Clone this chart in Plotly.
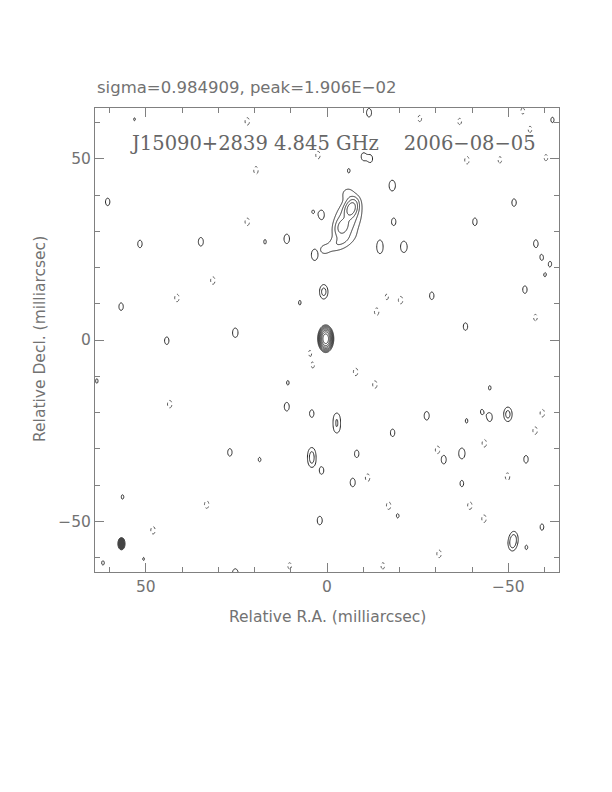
import numpy as np
import plotly.graph_objects as go

# ---------------- data (milliarcsec, flux in units of the lowest contour) -------------
# core component
core_ra = [0.35]
core_dec = [0.35]
core_amp = [250.0]
core_sra = [0.67]
core_sdec = [1.15]

# jet components
jet_ra = [-5.6, -6.7, -4.2, -3.0, -5.6, 0.8]
jet_dec = [33.0, 36.3, 31.2, 26.5, 40.5, 25.0]
jet_amp = [3.0, 12.0, 4.0, 1.2, 1.0, 0.9]
jet_smaj = [4.4, 1.45, 1.4, 3.5, 1.4, 1.0]
jet_smin = [2.35, 0.9, 1.0, 1.3, 1.4, 1.0]
jet_pa = [-20.0, -20.0, -20.0, -65.0, 0.0, 0.0]

# positive noise islands
pos_ra = [60.5, 51.6, 34.8, 17.1, 11.1, 56.8, 25.3, 44.2, -38.2, -18.0, -18.4, -21.2,
          -40.8, -51.6, -57.6, -59.2, -61.6, -60.1, -54.6, -28.9, 0.9, 7.5, 26.8, 18.6,
          10.8, 11.1, 4.2, -2.7, -2.7, 4.2, 4.2, 1.5, -8.2, -7.1, 2.0, -11.6, 25.3, 56.4,
          61.8, -27.5, -38.5, -42.7, -44.9, -49.9, -44.9, -37.2, -32.2, -54.9, -37.2,
          -59.3, -51.1, -51.6, -55.0, -19.5, 1.5, 3.4, -6.0, -18.1,
          -10.0, -12.0, 53.1, -62.2, 50.6, 63.5, 3.9, -14.6, -14.6]
pos_dec = [38.1, 26.5, 27.1, 27.1, 27.9, 9.2, 2.0, -0.2, 3.7, 42.6, 32.6, 25.7,
           32.6, 37.9, 26.6, 22.8, 21.0, 17.9, 13.9, 12.2, 13.3, 10.3, -31.0, -33.0,
           -11.8, -18.4, -20.3, -21.6, -24.2, -31.3, -33.5, -36.0, -31.4, -39.3, -49.8, 62.7, -64.5, -43.3,
           -61.5, -20.9, -22.3, -19.8, -21.3, -20.5, -13.2, -31.3, -33.0, -32.9, -39.6,
           -51.6, -56.3, -54.6, -57.2, -48.5, 34.5, 23.5, 46.7, -25.6,
           50.6, 50.0, 60.9, 60.7, -60.4, -11.3, 35.4, 24.8, 26.6]
pos_amp = [1.3, 1.3, 1.4, 1.1, 1.5, 1.3, 1.5, 1.3, 1.3, 1.7, 1.3, 1.8,
           1.3, 1.3, 1.3, 1.15, 1.1, 1.05, 1.3, 1.3, 2.6, 1.1, 1.3, 1.1,
           1.1, 1.4, 1.3, 1.6, 1.6, 1.8, 1.8, 1.3, 1.3, 1.4, 1.4, 1.4, 1.6, 1.1,
           1.1, 1.4, 1.1, 1.1, 1.4, 2.6, 1.1, 1.7, 1.4, 1.3, 1.2,
           1.2, 2.2, 2.0, 1.1, 1.1, 1.5, 1.8, 1.1, 1.3,
           1.25, 1.25, 1.05, 1.15, 1.05, 1.1, 1.05, 1.05, 1.05]

# negative noise islands (magnitudes)
neg_ra = [22.0, 2.5, 19.6, -38.6, 31.5, 41.4, 22.0, -13.7, -20.3, -7.9, -13.2, 4.7, 3.9,
          43.4, 33.2, 48.0, -11.2, -17.0, -30.5, -43.4, -49.8, -39.4, -43.3, -30.9, -59.4, -57.4,
          -25.6, -36.6, -54.0, -47.7, -60.4, -56.0, 10.3, -15.4, -57.5, -16.5]
neg_dec = [60.3, 51.0, 46.8, 49.6, 16.4, 11.6, 32.6, 7.8, 11.0, -8.8, -12.3, -3.5, -7.1,
           -17.7, -45.4, -52.5, -38.0, -45.7, -30.3, -28.5, -37.7, -45.7, -49.3, -59.0, -20.2, -25.0,
           61.1, 60.3, 63.2, 49.7, 50.3, 58.1, -62.3, -62.3, 6.2, 11.9]
neg_amp = [1.3, 1.3, 1.3, 1.3, 1.3, 1.3, 1.3, 1.3, 1.3, 1.3, 1.3, 1.1, 1.1,
           1.3, 1.3, 1.3, 1.3, 1.3, 1.3, 1.3, 1.3, 1.3, 1.3, 1.3, 1.3, 1.3,
           1.2, 1.2, 1.2, 1.2, 1.2, 1.2, 1.2, 1.2, 1.2, 1.15]

# restoring beam (FWHM, mas) and its plotting position
beam_ra = 56.7
beam_dec = -56.2
beam_min = 2.0
beam_maj = 3.4

header_text = "sigma=0.984909, peak=1.906E\u221202"
title_text = "J15090+2839 4.845 GHz\u00a0\u00a0\u00a0\u00a02006\u221208\u221205"
xlabel = "Relative R.A. (milliarcsec)"
ylabel = "Relative Decl. (milliarcsec)"
tick_vals = [50, 0, -50]
tick_text = ["50", "0", "\u221250"]

# ---------------- image synthesis from the components ----------------
def gauss(X, Y, ra, dec, amp, smaj, smin, pa):
    t = np.deg2rad(pa)
    dx, dy = X - ra, Y - dec
    u = dx * np.sin(t) + dy * np.cos(t)
    v = dx * np.cos(t) - dy * np.sin(t)
    return amp * np.exp(-0.5 * (u ** 2 / smaj ** 2 + v ** 2 / smin ** 2))

bsig_maj = beam_maj / 2.3548
bsig_min = beam_min / 2.3548

gx = np.round(np.arange(-64.0, 64.001, 0.32), 2)
gy = np.round(np.arange(-64.0, 64.001, 0.32), 2)
GX, GY = np.meshgrid(gx, gy)
img = np.zeros_like(GX)
for r, d, a in zip(pos_ra, pos_dec, pos_amp):
    img += gauss(GX, GY, r, d, a, bsig_maj, bsig_min, 0.0)
neg = np.zeros_like(GX)
for r, d, a in zip(neg_ra, neg_dec, neg_amp):
    neg += gauss(GX, GY, r, d, a, bsig_maj, bsig_min, 0.0)

# jet region on a finer grid
jx = np.round(np.arange(-16.0, 6.001, 0.12), 3)
jy = np.round(np.arange(18.0, 48.001, 0.12), 3)
JX, JY = np.meshgrid(jx, jy)
jimg = np.zeros_like(JX)
for r, d, a, sj, sn, p in zip(jet_ra, jet_dec, jet_amp, jet_smaj, jet_smin, jet_pa):
    jimg += gauss(JX, JY, r, d, a, sj, sn, p)

cx = np.round(np.arange(-5.0, 5.001, 0.06), 3)
cy = np.round(np.arange(-8.0, 8.001, 0.06), 3)
CX, CY = np.meshgrid(cx, cy)
cimg = np.zeros_like(CX)
for r, d, a, sx, sy in zip(core_ra, core_dec, core_amp, core_sra, core_sdec):
    cimg += gauss(CX, CY, r, d, a, sy, sx, 0.0)

def logz(a):
    return np.round(np.log2(np.maximum(a, 0.5)), 2)

line_col = "#2a2a2a"
fig = go.Figure()
for xs, ys, zs in [(gx, gy, img), (jx, jy, jimg), (cx, cy, cimg)]:
    fig.add_trace(go.Contour(x=xs, y=ys, z=logz(zs), showscale=False, hoverinfo="skip",
                             contours=dict(start=0, end=8, size=1, coloring="none"),
                             line=dict(color=line_col, width=1, smoothing=1)))
fig.add_trace(go.Contour(x=gx, y=gy, z=np.round(neg, 2), showscale=False, hoverinfo="skip",
                         contours=dict(start=1, end=1.5, size=1, coloring="none"),
                         line=dict(color="#555555", width=1, dash="dot", smoothing=1)))

fig.add_shape(type="circle", xref="x", yref="y",
              x0=beam_ra + beam_min / 2, x1=beam_ra - beam_min / 2,
              y0=beam_dec - beam_maj / 2, y1=beam_dec + beam_maj / 2,
              fillcolor="#444444", line=dict(color="#444444", width=1))

txt_col = "#727272"
axis_font = dict(family="DejaVu Sans", size=15.5, color=txt_col)
ax_common = dict(showgrid=False, zeroline=False, showline=True, linecolor="#808080",
                 linewidth=1, mirror="ticks", ticks="inside", ticklen=9, tickcolor="#808080",
                 tickwidth=1, tickvals=tick_vals, ticktext=tick_text, tickfont=axis_font,
                 minor=dict(ticks="inside", ticklen=5, tickcolor="#808080", dtick=10,
                            tick0=0, showgrid=False))
fig.update_xaxes(range=[64, -64], **ax_common)
fig.update_yaxes(range=[-64, 64], **ax_common)

# page body has an 8px margin; figure is placed at (8, 8)
OFF = 8
W, H = 596, 776
L, T = 95 - OFF, 108 - OFF
R = W - L - 464
B = H - T - 464
def px(x):
    return (x - OFF - L) / 464.0
def py(y):
    return 1 - (y - OFF - T) / 464.0

fig.add_annotation(text=header_text, xref="paper", yref="paper", x=px(95), y=py(88),
                   xanchor="left", yanchor="middle", showarrow=False,
                   font=dict(family="DejaVu Sans", size=16.5, color=txt_col))
fig.add_annotation(text=title_text, xref="paper", yref="paper", x=px(333), y=py(143),
                   xanchor="center", yanchor="middle", showarrow=False,
                   font=dict(family="DejaVu Serif", size=19.5, color="#666666"))
fig.add_annotation(text=xlabel, xref="paper", yref="paper", x=px(327), y=py(617),
                   xanchor="center", yanchor="middle", showarrow=False,
                   font=dict(family="DejaVu Sans", size=15.5, color=txt_col))
fig.add_annotation(text=ylabel, xref="paper", yref="paper", x=px(40), y=py(339),
                   xanchor="center", yanchor="middle", showarrow=False, textangle=-90,
                   font=dict(family="DejaVu Sans", size=15.5, color=txt_col))

fig.update_layout(width=W, height=H, margin=dict(l=L, r=R, t=T, b=B, autoexpand=False),
                  paper_bgcolor="white", plot_bgcolor="white", showlegend=False)
fig.write_html("out.html")
